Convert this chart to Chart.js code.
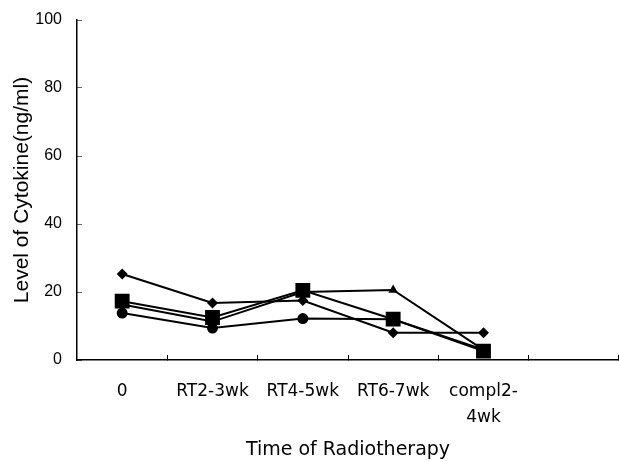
<!DOCTYPE html>
<html>
<head>
<meta charset="utf-8">
<script src="https://cdn.jsdelivr.net/npm/chart.js@4"></script>
<style>
  html, body { margin: 0; padding: 0; background: #fff; }
  #wrap { width: 619px; height: 462px; }
</style>
</head>
<body>
<div id="wrap"><canvas id="cytoChart"></canvas></div>
<script>
// categories (last one is an empty slot on the axis)
const categories = ['0', 'RT2-3wk', 'RT4-5wk', 'RT6-7wk', ['compl2-', '4wk'], ''];

// series values (ng/ml)
const diamondVals  = [25.3, 16.8, 17.5, 8.0, 8.0, null];
const triangleVals = [16.3, 11.3, 20.0, 20.6, 3.0, null];
const squareVals   = [17.3, 12.5, 20.5, 12.0, 2.6, null];
const circleVals   = [13.8, 9.4, 12.2, 12.0, 3.0, null];

const yTicks = [0, 20, 40, 60, 80, 100];

function series(label, data, style, radius) {
  return {
    label: label,
    data: data,
    borderColor: '#000',
    backgroundColor: '#000',
    borderWidth: 2,
    pointStyle: style,
    pointRadius: radius,
    pointBorderWidth: 0,
    tension: 0
  };
}

const ctx = document.getElementById('cytoChart').getContext('2d');
new Chart(ctx, {
  type: 'line',
  data: {
    labels: categories,
    datasets: [
      series('circle', circleVals, 'circle', 5.5),
      series('diamond', diamondVals, 'rectRot', 5.5),
      series('triangle', triangleVals, 'triangle', 5.5),
      series('square', squareVals, 'rect', 10.5)
    ]
  },
  options: {
    responsive: true,
    maintainAspectRatio: false,
    animation: false,
    layout: { autoPadding: false, padding: { left: 0, top: 20, right: 0, bottom: 0 } },
    plugins: {
      legend: { display: false },
      tooltip: { enabled: false }
    },
    scales: {
      x: {
        offset: true,
        afterFit: function(scale) {
          scale.height = 102;
          scale.paddingLeft = 0;
          scale.paddingRight = 0;
        },
        grid: {
          offset: true,
          drawOnChartArea: false,
          drawTicks: true,
          tickLength: -5,
          color: '#000'
        },
        border: { color: '#000', width: 1.5 },
        ticks: {
          color: '#000',
          padding: 24,
          maxRotation: 0,
          autoSkip: false,
          font: { family: 'DejaVu Sans', size: 17, lineHeight: 1.5 }
        },
        title: {
          display: true,
          text: 'Time of Radiotherapy',
          color: '#000',
          padding: { top: 0, bottom: 1 },
          font: { family: 'DejaVu Sans', size: 19 }
        }
      },
      y: {
        min: 0,
        max: 100,
        afterBuildTicks: function(axis) {
          axis.ticks = yTicks.map(v => ({ value: v }));
        },
        afterFit: function(scale) {
          scale.width = 77;
          scale.paddingTop = 0;
          scale.paddingBottom = 0;
        },
        grid: {
          drawOnChartArea: false,
          drawTicks: true,
          tickLength: -5,
          color: '#666'
        },
        border: { color: '#000', width: 1.5 },
        ticks: {
          color: '#000',
          padding: 20,
          font: { family: 'Liberation Sans', size: 16 }
        },
        title: {
          display: true,
          text: 'Level of Cytokine(ng/ml)',
          color: '#000',
          padding: { top: 10, bottom: 0 },
          font: { family: 'Liberation Sans', size: 21 }
        }
      }
    }
  }
});
</script>
</body>
</html>
